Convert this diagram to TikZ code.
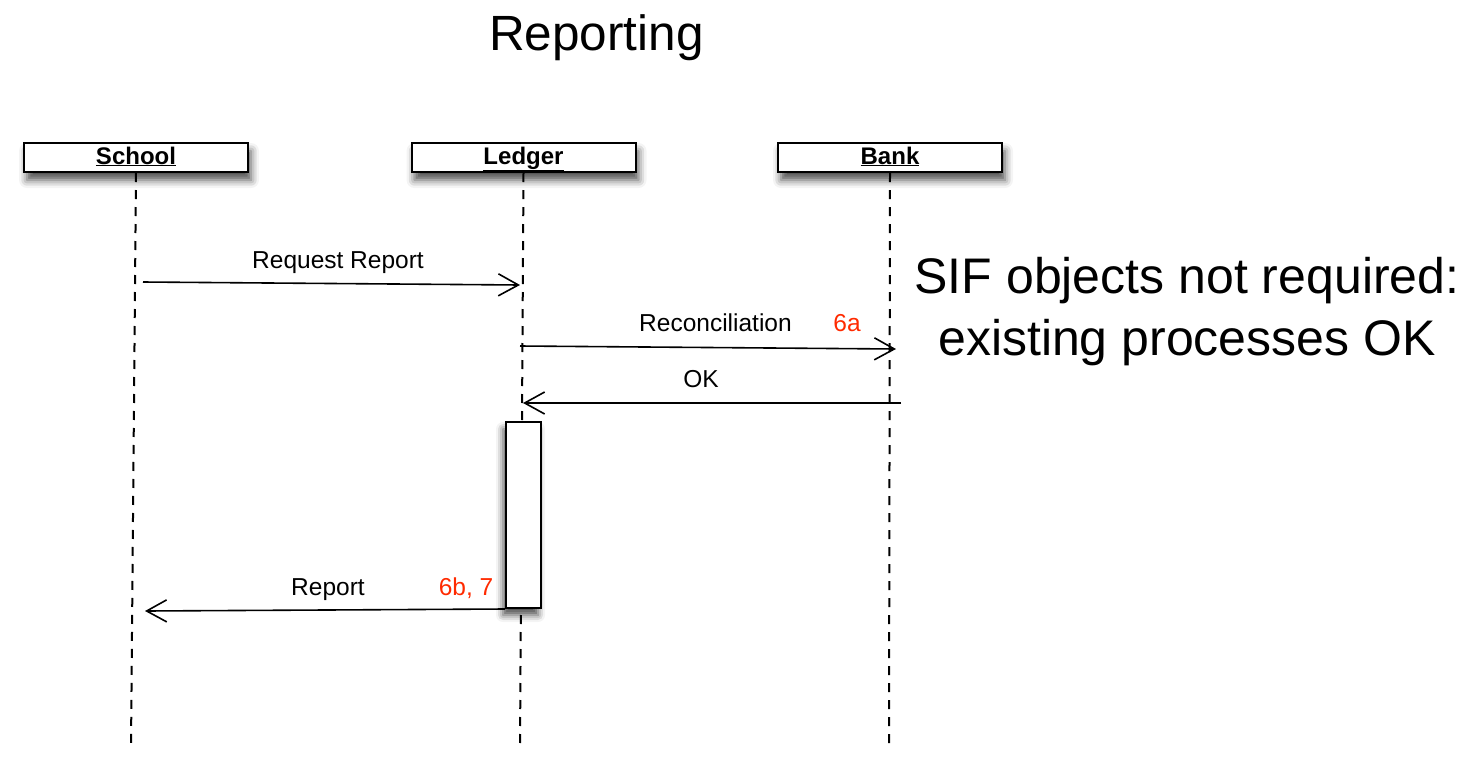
\documentclass[tikz,border=0pt]{standalone}
\usepackage{fontspec}
\setmainfont{Liberation Sans}
\usetikzlibrary{arrows.meta,shadows.blur}
\definecolor{numred}{HTML}{FF2A00}
\begin{document}
\begin{tikzpicture}[x=1pt,y=-1pt,
  header/.style={draw=black,line width=2pt,fill=white,minimum width=224pt,minimum height=29pt,inner sep=0pt,
    text height=18pt,text depth=5pt,
    font=\fontsize{24}{28}\selectfont\bfseries,
    blur shadow={shadow xshift=3pt,shadow yshift=-8pt,shadow blur radius=8pt,shadow opacity=70}},
  actbox/.style={draw=black,line width=2pt,fill=white,minimum width=35pt,minimum height=186pt,inner sep=0pt,
    blur shadow={shadow xshift=-3pt,shadow yshift=-7pt,shadow blur radius=7pt,shadow opacity=70}},
  lifeline/.style={line width=2pt,dash pattern=on 9pt off 8pt},
  msg/.style={line width=1.6pt,-{Straight Barb[length=20pt,width=22pt,line width=1.6pt]}},
  lbl/.style={anchor=base,inner sep=0pt,font=\fontsize{24.5}{28}\selectfont},
  num/.style={lbl,text=numred},
  big/.style={anchor=base,inner sep=0pt,font=\fontsize{50}{60}\selectfont}]
\useasboundingbox (0,0) rectangle (1460,756);
% title
\node[anchor=base,inner sep=0pt,font=\fontsize{49.5}{56}\selectfont] (title) at (596.5,50) {Reporting};
% lifelines
\coordinate (schoolend) at (131,748);
\coordinate (ledgerend) at (520,748);
\coordinate (bankend) at (889,748);
\node[header] (school) at (136,157.5) {\underline{School}};
\node[header] (ledger) at (523.5,157.5) {\underline{Ledger}};
\node[header] (bank) at (890,157.5) {\underline{Bank}};
\draw[lifeline] (school.south) -- (schoolend);
\draw[lifeline] (ledger.south) -- (ledgerend);
\draw[lifeline] (bank.south) -- (bankend);
% activation
\node[actbox] (act) at (523.5,515) {};
% messages
\coordinate (m1s) at (143,282);
\coordinate (m1e) at (520,285);
\draw[msg] (m1s) -- (m1e);
\node[lbl] (l1) at (338,268) {Request Report};
\coordinate (m2s) at (520,346);
\coordinate (m2e) at (896,349);
\draw[msg] (m2s) -- (m2e);
\node[lbl] (l2) at (715.5,331) {Reconciliation};
\node[num] (n2) at (847,331) {6a};
\coordinate (m3s) at (901,403);
\coordinate (m3e) at (523,403);
\draw[msg] (m3s) -- (m3e);
\node[lbl] (l3) at (701,387) {OK};
\coordinate (m4e) at (145,611);
\draw[msg] (act.south west) -- (m4e);
\node[lbl] (l4) at (328,595) {Report};
\node[num] (n4) at (466,595) {6b, 7};
% note
\node[big] (note1) at (1187,293) {SIF objects not required:};
\node[big] (note2) at (1187,355) {existing processes OK};
\end{tikzpicture}
\end{document}
